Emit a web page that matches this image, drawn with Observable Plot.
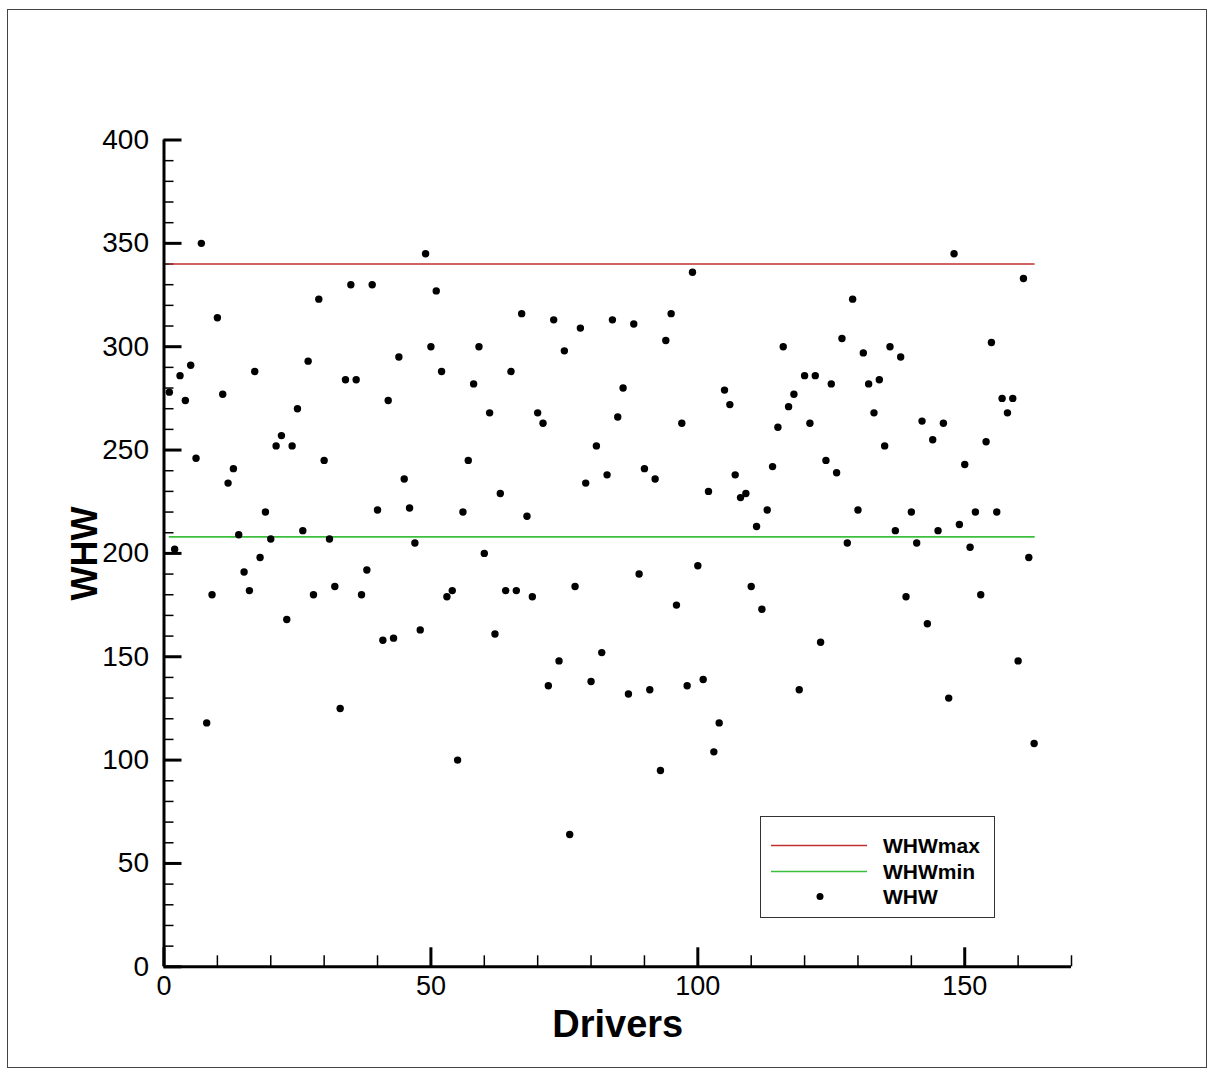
<!DOCTYPE html>
<html>
<head>
<meta charset="utf-8">
<script src="https://cdn.jsdelivr.net/npm/d3@7"></script>
<script src="https://cdn.jsdelivr.net/npm/@observablehq/plot@0.6"></script>
<style>
  html, body { margin: 0; padding: 0; background: #fff; }
  #wrap { position: relative; width: 1215px; height: 1076px; font-family: "Liberation Sans", Arial, sans-serif; }
  #chart svg { display: block; }
  .frame { position: absolute; left: 7px; top: 9px; width: 1200px; height: 1059px; border: 1px solid #444; box-sizing: border-box; pointer-events: none; }
  .legend { position: absolute; left: 760px; top: 816px; width: 235px; height: 102px; border: 1.5px solid #333; box-sizing: border-box; background: #fff; }
  .legend svg { position: absolute; left: 0; top: 0; }
  .legend .lab { position: absolute; left: 122px; font-weight: bold; font-size: 21px; line-height: 21px; color: #000; }
</style>
</head>
<body>
<div id="wrap">
  <div id="chart"></div>
  <div class="frame"></div>
  <div class="legend">
    <svg width="120" height="100">
      <line x1="10" x2="106" y1="28.5" y2="28.5" stroke="#c03030" stroke-width="1.4"></line>
      <line x1="10" x2="106" y1="54.5" y2="54.5" stroke="#3cbf3c" stroke-width="1.6"></line>
      <circle cx="59" cy="79.5" r="3.5" fill="#000"></circle>
    </svg>
    <div class="lab" style="top:18px;">WHWmax</div>
    <div class="lab" style="top:44px;">WHWmin</div>
    <div class="lab" style="top:69px;">WHW</div>
  </div>
</div>
<script>
// WHW value per driver (drivers numbered 1..163)
const whw = [
  278, 202, 286, 274, 291, 246, 350, 118, 180, 314,
  277, 234, 241, 209, 191, 182, 288, 198, 220, 207,
  252, 257, 168, 252, 270, 211, 293, 180, 323, 245,
  207, 184, 125, 284, 330, 284, 180, 192, 330, 221,
  158, 274, 159, 295, 236, 222, 205, 163, 345, 300,
  327, 288, 179, 182, 100, 220, 245, 282, 300, 200,
  268, 161, 229, 182, 288, 182, 316, 218, 179, 268,
  263, 136, 313, 148, 298, 64, 184, 309, 234, 138,
  252, 152, 238, 313, 266, 280, 132, 311, 190, 241,
  134, 236, 95, 303, 316, 175, 263, 136, 336, 194,
  139, 230, 104, 118, 279, 272, 238, 227, 229, 184,
  213, 173, 221, 242, 261, 300, 271, 277, 134, 286,
  263, 286, 157, 245, 282, 239, 304, 205, 323, 221,
  297, 282, 268, 284, 252, 300, 211, 295, 179, 220,
  205, 264, 166, 255, 211, 263, 130, 345, 214, 243,
  203, 220, 180, 254, 302, 220, 275, 268, 275, 148,
  333, 198, 108
];
const drivers = whw.map((_, i) => i + 1);
const whwMax = 340;
const whwMin = 208;

const xMajor = [0, 50, 100, 150];
const xMinor = [10, 20, 30, 40, 60, 70, 80, 90, 110, 120, 130, 140, 160, 170];
const yMajor = [0, 50, 100, 150, 200, 250, 300, 350, 400];
const yMinor = [10, 20, 30, 40, 60, 70, 80, 90, 110, 120, 130, 140, 160, 170, 180, 190,
  210, 220, 230, 240, 260, 270, 280, 290, 310, 320, 330, 340, 360, 370, 380, 390];

const table = drivers.map((d, i) => ({driver: d, whw: whw[i], max: whwMax, min: whwMin}));

// layout
const W = 1215, H = 1076, mL = 163.5, mR = 144, mT = 139.5, mB = 109.7;
const fw = W - mL - mR, fh = H - mT - mB;

const chart = Plot.plot({
  width: W,
  height: H,
  marginLeft: mL,
  marginRight: mR,
  marginTop: mT,
  marginBottom: mB,
  style: {fontFamily: "'Liberation Sans', Arial, sans-serif", background: "transparent", color: "#000"},
  x: {domain: [0, 170]},
  y: {domain: [0, 400]},
  marks: [
    // inward tick marks
    Plot.tickY(yMinor, {y: d => d, insetRight: fw - 10, strokeWidth: 1.5}),
    Plot.tickY(yMajor, {y: d => d, insetRight: fw - 18, strokeWidth: 3}),
    Plot.tickX(xMinor, {x: d => d, insetTop: fh - 11, strokeWidth: 1.5}),
    Plot.tickX(xMajor, {x: d => d, insetTop: fh - 19, strokeWidth: 3}),
    // tick labels
    Plot.axisY({ticks: yMajor, tickSize: 0, tickPadding: 15, fontSize: 28, label: null, tickFormat: d3.format("d")}),
    Plot.axisX({ticks: xMajor, tickSize: 0, tickPadding: 9, fontSize: 27, label: null, tickFormat: d3.format("d")}),
    // axis lines
    Plot.ruleX([0], {strokeWidth: 3}),
    Plot.ruleY([0], {strokeWidth: 3}),
    // reference lines
    Plot.lineY(table, {x: "driver", y: "max", stroke: "#c03030", strokeWidth: 1.3}),
    Plot.lineY(table, {x: "driver", y: "min", stroke: "#3cbf3c", strokeWidth: 1.6}),
    // data points
    Plot.dot(table, {x: "driver", y: "whw", r: 3.7, fill: "#000", stroke: "none"}),
    // axis titles
    Plot.text(["Drivers"], {frameAnchor: "bottom", textAnchor: "middle", lineAnchor: "bottom", dy: 70, fontSize: 38, fontWeight: "bold", text: d => d}),
    Plot.text(["WHW"], {frameAnchor: "left", textAnchor: "middle", lineAnchor: "middle", dx: -79, rotate: -90, fontSize: 36, fontWeight: "bold", text: d => d})
  ]
});
document.getElementById("chart").appendChild(chart);
</script>
</body>
</html>
